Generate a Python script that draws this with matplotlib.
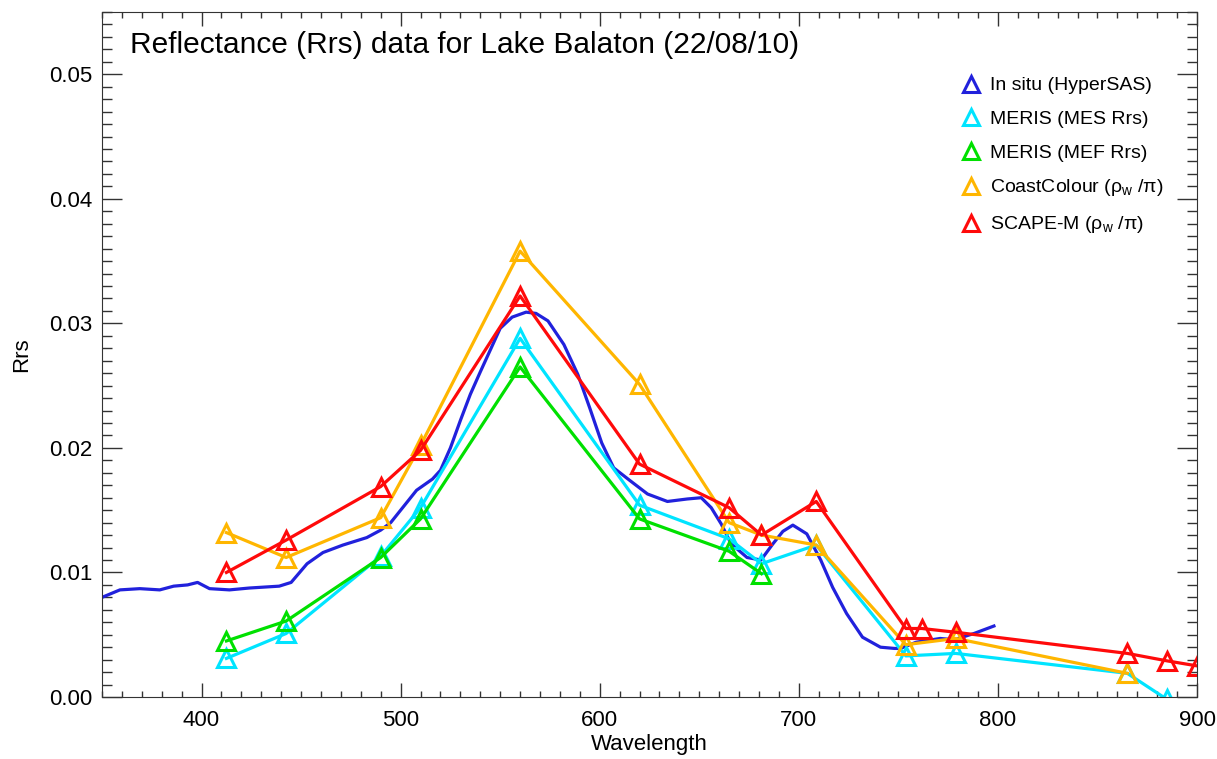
"""
Lake Balaton Rrs comparison (22/08/10)
in situ HyperSAS vs MERIS / CoastColour / SCAPE-M
"""

import matplotlib
matplotlib.use('Agg')
import matplotlib.pyplot as plt
from matplotlib.lines import Line2D
from matplotlib.ticker import MultipleLocator

plt.rcParams['font.family'] = ['Liberation Sans', 'DejaVu Sans']
plt.rcParams['mathtext.fontset'] = 'custom'
plt.rcParams['mathtext.rm'] = 'Liberation Sans'
plt.rcParams['mathtext.it'] = 'Liberation Sans:italic'

# 现场高光谱 (HyperSAS)
insitu_wl = [350, 359, 369, 379, 386, 393, 398, 404, 414, 424, 439, 445, 453,
             461, 471, 483, 490, 495, 501, 508, 516, 520, 525, 530, 535, 540,
             550, 556, 563, 568, 574, 582, 589, 595, 601, 607, 615, 624, 634,
             644, 651, 656, 661, 666, 674, 681, 687, 692, 697, 704, 711, 717,
             724, 732, 741, 748, 751, 759, 771, 778, 788, 798]
insitu_rrs = [0.0080, 0.0086, 0.0087, 0.0086, 0.0089, 0.0090, 0.0092, 0.0087,
              0.0086, 0.00875, 0.0089, 0.0092, 0.0107, 0.0116, 0.0122, 0.0128,
              0.0134, 0.0140, 0.0152, 0.0166, 0.0175, 0.0182, 0.0200, 0.0222,
              0.0243, 0.0261, 0.0296, 0.0305, 0.0309, 0.0308, 0.0302, 0.0283,
              0.0259, 0.0232, 0.0204, 0.0184, 0.0174, 0.0163, 0.0157, 0.0159,
              0.0160, 0.0152, 0.0139, 0.0123, 0.0112, 0.0110, 0.0123, 0.0133,
              0.0138, 0.0131, 0.0110, 0.0088, 0.0067, 0.0048, 0.0040, 0.0039,
              0.0039, 0.0044, 0.0047, 0.0046, 0.0051, 0.0057]

# MERIS MES
mes_wl = [412.5, 442.5, 490, 510, 560, 620, 665, 681.25, 708.75, 753.75, 778.75, 865, 885]
mes_rrs = [0.0031, 0.0051, 0.0113, 0.0152, 0.0288, 0.0154, 0.0127, 0.0107,
           0.0122, 0.0033, 0.0035, 0.0019, -0.0002]

# MERIS MEF
mef_wl = [412.5, 442.5, 490, 510, 560, 620, 665, 681.25]
mef_rrs = [0.0045, 0.0061, 0.0112, 0.0143, 0.0265, 0.0143, 0.0117, 0.0099]

# CoastColour
cc_wl = [412.5, 442.5, 490, 510, 560, 620, 665, 681.25, 708.75, 753.75, 778.75, 865]
cc_rrs = [0.0132, 0.0112, 0.0144, 0.0202, 0.0358, 0.0251, 0.0140, 0.0130,
          0.0122, 0.0042, 0.0047, 0.0019]

# SCAPE-M
sc_wl = [412.5, 442.5, 490, 510, 560, 620, 665, 681.25, 708.75, 753.75,
         761.875, 778.75, 865, 885, 900]
sc_rrs = [0.0100, 0.0126, 0.0169, 0.0198, 0.0322, 0.0187, 0.0152, 0.0130,
          0.0157, 0.0055, 0.0055, 0.0052, 0.0035, 0.0029, 0.0025]

labels = ['In situ (HyperSAS)', 'MERIS (MES Rrs)', 'MERIS (MEF Rrs)',
          r'CoastColour ($\mathrm{\rho_w}$ /$\mathrm{\pi}$)',
          r'SCAPE-M ($\mathrm{\rho_w}$ /$\mathrm{\pi}$)']
colors = ['#2121dc', '#00e4ff', '#00e000', '#ffb600', '#ff0a0a']


def main():
    fig = plt.figure(figsize=(12.17, 7.59), dpi=100)
    ax = fig.add_axes([102 / 1217, 1 - 697 / 759, 1095 / 1217, 685 / 759])

    lw = 2.3
    ax.plot(insitu_wl, insitu_rrs, color=colors[0], linewidth=lw)
    series = [(mes_wl, mes_rrs), (mef_wl, mef_rrs), (cc_wl, cc_rrs), (sc_wl, sc_rrs)]
    for (wl, rrs), c in zip(series, colors[1:]):
        ax.plot(wl, rrs, color=c, linewidth=lw, marker='^', markersize=13,
                markerfacecolor='none', markeredgewidth=2.2)

    ax.set_xlim(350, 900)
    ax.set_ylim(0, 0.055)
    ax.xaxis.set_major_locator(MultipleLocator(100))
    ax.xaxis.set_minor_locator(MultipleLocator(10))
    ax.yaxis.set_major_locator(MultipleLocator(0.01))
    ax.yaxis.set_minor_locator(MultipleLocator(0.001))
    ax.yaxis.set_major_formatter(plt.FormatStrFormatter('%.2f'))

    ax.tick_params(axis='both', which='both', direction='in', top=True, right=True,
                   labelsize=16, color='#333333')
    ax.tick_params(axis='x', which='major', length=10, width=1, pad=9)
    ax.tick_params(axis='x', which='minor', length=4.5, width=1)
    ax.tick_params(axis='y', which='major', length=14.5, width=1, pad=7)
    ax.tick_params(axis='y', which='minor', length=7.5, width=1)
    for sp in ax.spines.values():
        sp.set_color('#333333')

    ax.set_xlabel('Wavelength', fontsize=16)
    ax.set_ylabel('Rrs', fontsize=16)
    ax.xaxis.set_label_coords(0.5, -0.054)
    ax.yaxis.set_label_coords(-0.064, 0.5)

    ax.text(28 / 1095, 1 - 33 / 685, 'Reflectance (Rrs) data for Lake Balaton (22/08/10)',
            transform=ax.transAxes, fontsize=21.5, va='center', ha='left')

    handles = [Line2D([], [], linestyle='none', marker='^', markersize=12,
                      markerfacecolor='none', markeredgecolor=c, markeredgewidth=2.2)
               for c in colors]
    fig.legend(handles, labels, loc='upper left',
               bbox_to_anchor=(954 / 1217, 1 - 69 / 759), frameon=False,
               fontsize=14, handlelength=0.9, handletextpad=0.55,
               labelspacing=0.82, borderaxespad=0)

    fig.savefig('out.png', dpi=100)
    plt.close(fig)


if __name__ == "__main__":
    main()
